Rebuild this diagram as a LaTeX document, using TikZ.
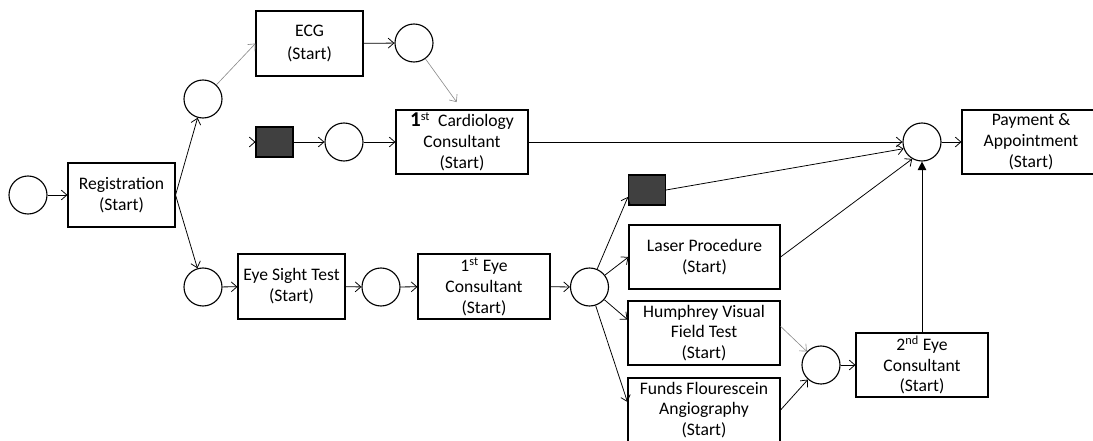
\documentclass[tikz,border=0pt]{standalone}
\usepackage{fontspec}
\setmainfont{Carlito}
\usetikzlibrary{arrows.meta}
\tikzset{
    process/.style = {rectangle, minimum height=1.6cm, inner sep=1pt, align=center, draw=black, line width=0.75pt, font=\fontsize{12.5}{14.8}\selectfont},
    event/.style = {circle, draw=black, line width=0.8pt, minimum size=0.95cm, inner sep=0pt},
    gate/.style = {rectangle, draw=black, line width=0.75pt, fill=black!75, minimum width=0.925cm, minimum height=0.75cm},
    arrow/.style = {line width=0.55pt, -{Straight Barb[length=4pt,width=7pt]}},
    arrowg/.style = {arrow, line width=0.45pt, draw=black!45},
    arrowup/.style = {line width=0.7pt, -{Triangle[length=6pt,width=6pt]}}
}

\begin{document}
\begin{tikzpicture}[x=0.025cm, y=-0.025cm]
    \useasboundingbox (0,0) rectangle (1093,441);
    \clip (0,0) rectangle (1093,441);
    % Nodos
    \node (c0) [event] at (28,195) {};
    \node (reg) [process, minimum width=2.675cm] at (121.5,195) {Registration\\(Start)};
    \node (cup) [event] at (203,99) {};
    \node (ceye) [event] at (203,287) {};
    \node (ecg) [process, minimum width=2.675cm, minimum height=1.625cm] at (309.5,43.5) {ECG\\[1.5pt](Start)};
    \node (cecg) [event] at (414,43) {};
    \node (g1) [gate] at (274.5,142) {};
    \node (cmid) [event] at (344,142) {};
    \node (card) [process, minimum width=3.3cm] at (462,142) {{\fontsize{15}{15}\selectfont\bfseries 1}\textsuperscript{st}\ \ Cardiology\\Consultant\\(Start)};
    \node (merge) [event] at (922,142) {};
    \node (pay) [process, minimum width=3.45cm] at (1031,142) {Payment \&\\Appointment\\(Start)};
    \node (eyetest) [process, minimum width=2.675cm, minimum height=1.625cm] at (291.5,286.5) {Eye Sight Test\\(Start)};
    \node (c2) [event] at (381,287) {};
    \node (eye1) [process, minimum width=3.3cm, minimum height=1.625cm] at (484,286.5) {1\textsuperscript{st} Eye\\Consultant\\(Start)};
    \node (c3) [event] at (589.5,287) {};
    \node (g2) [gate] at (647,190) {};
    \node (laser) [process, minimum width=3.775cm] at (704.5,257) {Laser Procedure\\(Start)};
    \node (humph) [process, minimum width=3.8cm] at (704,333) {Humphrey Visual\\Field Test\\(Start)};
    \node (funds) [process, minimum width=3.8cm] at (704,410) {Funds Flourescein\\Angiography\\(Start)};
    \node (c4) [event] at (821,365) {};
    \node (eye2) [process, minimum width=3.3cm] at (922,365) {2\textsuperscript{nd} Eye\\Consultant\\(Start)};

    %Flechas
    \draw [arrow] (c0) -- (reg);
    \draw [arrow] (reg.east) -- (cup);
    \draw [arrow] (reg.east) -- (ceye);
    \draw [arrowg] (cup) -- (ecg.west);
    \draw [arrow] (ecg) -- (cecg);
    \draw [arrowg, shorten >=6.5pt] (cecg) -- (card.north);
    \draw [arrow] ([xshift=-1pt]g1.west) -- (g1.west);
    \draw [arrow] (g1) -- (cmid);
    \draw [arrow] (cmid) -- (card);
    \draw [arrow] (card) -- (merge);
    \draw [arrow] (merge) -- (pay);
    \draw [arrow] (g2.east) -- (merge.200);
    \draw [arrow] (laser.east) -- (merge.240);
    \draw [arrowup] (eye2) -- (merge);
    \draw [arrow] (ceye) -- (eyetest);
    \draw [arrow] (eyetest) -- (c2);
    \draw [arrow] (c2) -- (eye1);
    \draw [arrow] (eye1) -- (c3);
    \draw [arrow] (c3) -- (g2.200);
    \draw [arrow] (c3) -- (laser.west);
    \draw [arrow] (c3) -- (humph.170);
    \draw [arrow] (c3) -- (funds.174);
    \draw [arrowg] (humph.5) -- (c4);
    \draw [arrow] (funds.east) -- (c4);
    \draw [arrow] (c4) -- (eye2);
\end{tikzpicture}
\end{document}
